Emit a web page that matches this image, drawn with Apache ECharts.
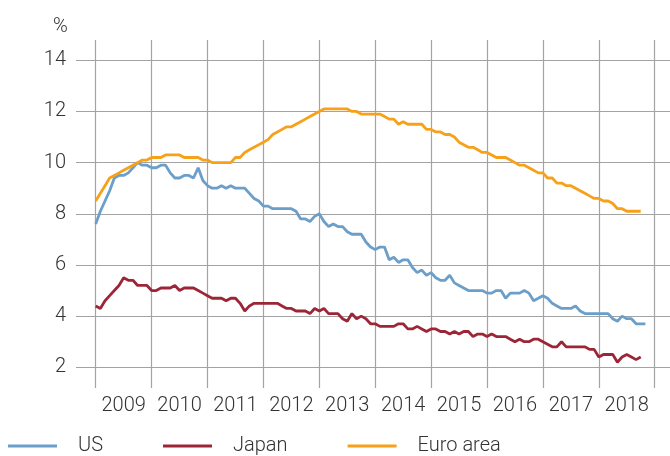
<!DOCTYPE html>
<html>
<head>
<meta charset="utf-8">
<script src="https://cdn.jsdelivr.net/npm/echarts@6/dist/echarts.min.js"></script>
<style>
  html, body { margin: 0; padding: 0; background: #fff; }
  #chart { width: 670px; height: 456px; }
</style>
</head>
<body>
<div id="chart"></div>
<script>
// monthly unemployment rates, Jan 2009 onwards (%)
const years = ['2009', '2010', '2011', '2012', '2013', '2014', '2015', '2016', '2017', '2018'];

const us = [
  7.6, 8.1, 8.5, 8.9, 9.4, 9.5, 9.5, 9.6, 9.8, 10.0, 9.9, 9.9,
  9.8, 9.8, 9.9, 9.9, 9.6, 9.4, 9.4, 9.5, 9.5, 9.4, 9.8, 9.3,
  9.1, 9.0, 9.0, 9.1, 9.0, 9.1, 9.0, 9.0, 9.0, 8.8, 8.6, 8.5,
  8.3, 8.3, 8.2, 8.2, 8.2, 8.2, 8.2, 8.1, 7.8, 7.8, 7.7, 7.9,
  8.0, 7.7, 7.5, 7.6, 7.5, 7.5, 7.3, 7.2, 7.2, 7.2, 6.9, 6.7,
  6.6, 6.7, 6.7, 6.2, 6.3, 6.1, 6.2, 6.2, 5.9, 5.7, 5.8, 5.6,
  5.7, 5.5, 5.4, 5.4, 5.6, 5.3, 5.2, 5.1, 5.0, 5.0, 5.0, 5.0,
  4.9, 4.9, 5.0, 5.0, 4.7, 4.9, 4.9, 4.9, 5.0, 4.9, 4.6, 4.7,
  4.8, 4.7, 4.5, 4.4, 4.3, 4.3, 4.3, 4.4, 4.2, 4.1, 4.1, 4.1,
  4.1, 4.1, 4.1, 3.9, 3.8, 4.0, 3.9, 3.9, 3.7, 3.7, 3.7
];

const japan = [
  4.4, 4.3, 4.6, 4.8, 5.0, 5.2, 5.5, 5.4, 5.4, 5.2, 5.2, 5.2,
  5.0, 5.0, 5.1, 5.1, 5.1, 5.2, 5.0, 5.1, 5.1, 5.1, 5.0, 4.9,
  4.8, 4.7, 4.7, 4.7, 4.6, 4.7, 4.7, 4.5, 4.2, 4.4, 4.5, 4.5,
  4.5, 4.5, 4.5, 4.5, 4.4, 4.3, 4.3, 4.2, 4.2, 4.2, 4.1, 4.3,
  4.2, 4.3, 4.1, 4.1, 4.1, 3.9, 3.8, 4.1, 3.9, 4.0, 3.9, 3.7,
  3.7, 3.6, 3.6, 3.6, 3.6, 3.7, 3.7, 3.5, 3.5, 3.6, 3.5, 3.4,
  3.5, 3.5, 3.4, 3.4, 3.3, 3.4, 3.3, 3.4, 3.4, 3.2, 3.3, 3.3,
  3.2, 3.3, 3.2, 3.2, 3.2, 3.1, 3.0, 3.1, 3.0, 3.0, 3.1, 3.1,
  3.0, 2.9, 2.8, 2.8, 3.0, 2.8, 2.8, 2.8, 2.8, 2.8, 2.7, 2.7,
  2.4, 2.5, 2.5, 2.5, 2.2, 2.4, 2.5, 2.4, 2.3, 2.4
];

const euro = [
  8.5, 8.8, 9.1, 9.4, 9.5, 9.6, 9.7, 9.8, 9.9, 10.0, 10.1, 10.1,
  10.2, 10.2, 10.2, 10.3, 10.3, 10.3, 10.3, 10.2, 10.2, 10.2, 10.2, 10.1,
  10.1, 10.0, 10.0, 10.0, 10.0, 10.0, 10.2, 10.2, 10.4, 10.5, 10.6, 10.7,
  10.8, 10.9, 11.1, 11.2, 11.3, 11.4, 11.4, 11.5, 11.6, 11.7, 11.8, 11.9,
  12.0, 12.1, 12.1, 12.1, 12.1, 12.1, 12.1, 12.0, 12.0, 11.9, 11.9, 11.9,
  11.9, 11.9, 11.8, 11.7, 11.7, 11.5, 11.6, 11.5, 11.5, 11.5, 11.5, 11.3,
  11.3, 11.2, 11.2, 11.1, 11.1, 11.0, 10.8, 10.7, 10.6, 10.6, 10.5, 10.4,
  10.4, 10.3, 10.2, 10.2, 10.2, 10.1, 10.0, 9.9, 9.9, 9.8, 9.7, 9.6,
  9.6, 9.4, 9.4, 9.2, 9.2, 9.1, 9.1, 9.0, 8.9, 8.8, 8.7, 8.6,
  8.6, 8.5, 8.5, 8.4, 8.2, 8.2, 8.1, 8.1, 8.1, 8.1
];

const FONT = 'Roboto, "DejaVu Sans", sans-serif';
const TXT = '#333';
const GRIDLINE = '#a3a3a3';

// x pixel layout: Jan 2009 at 95.7px, one year = 55.9px
const X0 = 95.7, MONTH = 55.9 / 12, LEFT = 76, RIGHT_EDGE = 670;

function to_points(values) {
  return values.map(function (v, i) { return [i, v]; });
}

function line_series(name, values, color) {
  return {
    name: name,
    type: 'line',
    xAxisIndex: 0,
    yAxisIndex: 0,
    data: to_points(values),
    showSymbol: false,
    symbol: 'none',
    lineStyle: { color: color, width: 2.8 },
    itemStyle: { color: color },
    animation: false
  };
}

const chart = echarts.init(document.getElementById('chart'));

chart.setOption({
  animation: false,
  textStyle: { fontFamily: FONT },
  title: {
    text: '%',
    left: 48,
    top: 12,
    textStyle: { fontFamily: FONT, fontSize: 20, fontWeight: 300, color: TXT }
  },
  legend: {
    left: 8,
    top: 436,
    padding: 0,
    icon: 'rect',
    itemWidth: 49,
    itemHeight: 3,
    itemGap: 60,
    textStyle: { fontFamily: FONT, fontSize: 20, fontWeight: 300, color: TXT, padding: [0, 0, 0, 16] },
    data: ['US', 'Japan', 'Euro area']
  },
  grid: [
    // horizontal lines + series
    { left: LEFT, right: 0, top: 60.3, bottom: 456 - 367.3 },
    // vertical year lines + labels
    { left: X0, right: RIGHT_EDGE - (X0 + 10 * 55.9), top: 40, bottom: 68 }
  ],
  xAxis: [
    {
      gridIndex: 0,
      type: 'value',
      min: -(X0 - LEFT) / MONTH,
      max: (RIGHT_EDGE - X0) / MONTH,
      show: false
    },
    {
      gridIndex: 1,
      type: 'category',
      data: years,
      boundaryGap: true,
      axisLine: { show: false },
      axisTick: { show: false, interval: 0 },
      axisLabel: { interval: 0, fontFamily: FONT, fontSize: 20, fontWeight: 300, color: TXT, margin: 8 },
      splitLine: { show: true, interval: 0, lineStyle: { color: GRIDLINE, width: 1.2 } }
    }
  ],
  yAxis: [
    {
      gridIndex: 0,
      type: 'value',
      min: 2,
      max: 14,
      interval: 2,
      axisLine: { show: false },
      axisTick: { show: false },
      axisLabel: { fontFamily: FONT, fontSize: 20, fontWeight: 300, color: TXT, margin: 10 },
      splitLine: { show: true, lineStyle: { color: GRIDLINE, width: 1.2 } }
    },
    {
      gridIndex: 1,
      type: 'value',
      show: false
    }
  ],
  series: [
    line_series('US', us, '#6b9fc9'),
    line_series('Japan', japan, '#9c2638'),
    line_series('Euro area', euro, '#f7a11a')
  ]
});
</script>
</body>
</html>
